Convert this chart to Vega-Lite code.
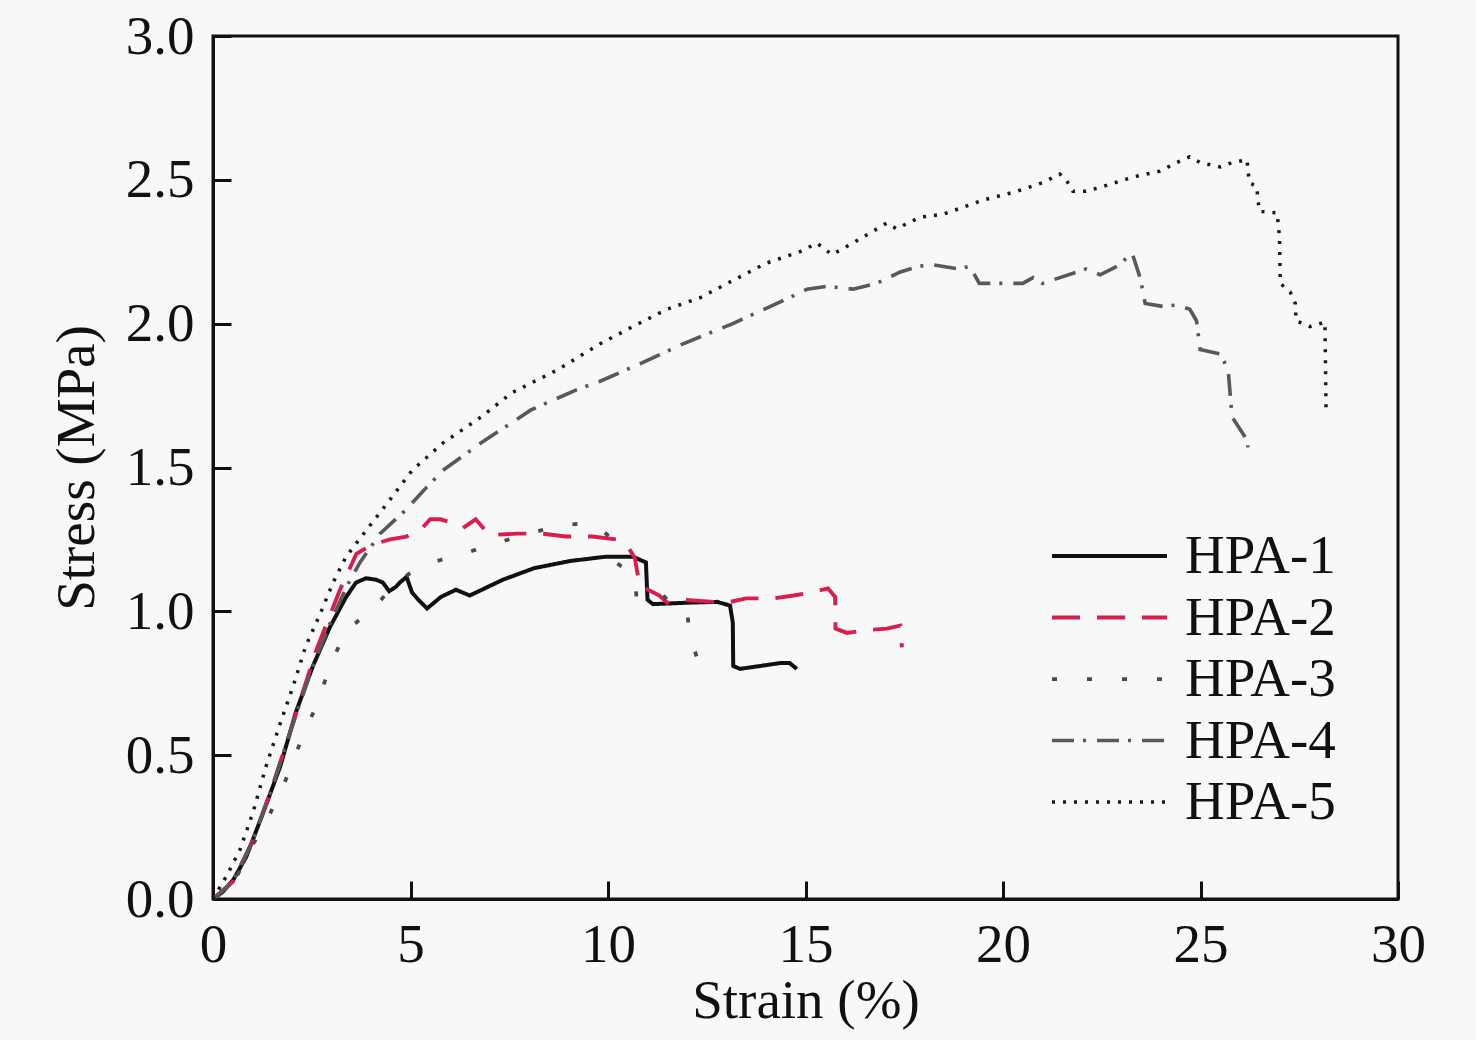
{
  "$schema": "https://vega.github.io/schema/vega-lite/v6.json",
  "width": 1185,
  "height": 863,
  "autosize": "none",
  "padding": {"left": 213, "top": 36, "right": 78, "bottom": 141},
  "background": "#f8f8f8",
  "config": {
    "view": {"stroke": "#111111", "strokeWidth": 3},
    "font": "Liberation Serif",
    "axis": {
      "grid": false,
      "domainColor": "#111111",
      "domainWidth": 3,
      "tickColor": "#111111",
      "tickWidth": 3,
      "tickSize": -18,
      "labelFont": "Liberation Serif",
      "labelFontSize": 55,
      "labelColor": "#111111",
      "labelPadding": 37,
      "labelFlush": false,
      "labelOverlap": false,
      "titleFont": "Liberation Serif",
      "titleFontSize": 55,
      "titleFontWeight": "normal",
      "titleColor": "#111111"
    }
  },
  "data": {
    "values": [
      {"s":"HPA-1","x":0,"y":0},{"s":"HPA-1","x":0.25,"y":0.025},{"s":"HPA-1","x":0.51,"y":0.066},{"s":"HPA-1","x":0.84,"y":0.146},{"s":"HPA-1","x":1.27,"y":0.3},{"s":"HPA-1","x":1.7,"y":0.46},{"s":"HPA-1","x":2.1,"y":0.65},{"s":"HPA-1","x":2.53,"y":0.81},{"s":"HPA-1","x":2.96,"y":0.945},{"s":"HPA-1","x":3.37,"y":1.05},{"s":"HPA-1","x":3.62,"y":1.1},{"s":"HPA-1","x":3.87,"y":1.115},{"s":"HPA-1","x":4.13,"y":1.11},{"s":"HPA-1","x":4.3,"y":1.1},{"s":"HPA-1","x":4.46,"y":1.07},{"s":"HPA-1","x":4.63,"y":1.085},{"s":"HPA-1","x":4.73,"y":1.1},{"s":"HPA-1","x":4.9,"y":1.12},{"s":"HPA-1","x":5.04,"y":1.065},{"s":"HPA-1","x":5.2,"y":1.04},{"s":"HPA-1","x":5.42,"y":1.01},{"s":"HPA-1","x":5.77,"y":1.05},{"s":"HPA-1","x":6.15,"y":1.075},{"s":"HPA-1","x":6.5,"y":1.055},{"s":"HPA-1","x":7.34,"y":1.11},{"s":"HPA-1","x":8.13,"y":1.15},{"s":"HPA-1","x":9.04,"y":1.175},{"s":"HPA-1","x":9.95,"y":1.19},{"s":"HPA-1","x":10.63,"y":1.19},{"s":"HPA-1","x":10.96,"y":1.17},{"s":"HPA-1","x":11.0,"y":1.04},{"s":"HPA-1","x":11.14,"y":1.025},{"s":"HPA-1","x":12.0,"y":1.03},{"s":"HPA-1","x":12.76,"y":1.033},{"s":"HPA-1","x":13.09,"y":1.02},{"s":"HPA-1","x":13.16,"y":0.96},{"s":"HPA-1","x":13.17,"y":0.81},{"s":"HPA-1","x":13.34,"y":0.8},{"s":"HPA-1","x":13.85,"y":0.81},{"s":"HPA-1","x":14.35,"y":0.82},{"s":"HPA-1","x":14.6,"y":0.82},{"s":"HPA-1","x":14.78,"y":0.8},

      {"s":"HPA-2","x":0,"y":0},{"s":"HPA-2","x":0.5,"y":0.06},{"s":"HPA-2","x":1.0,"y":0.2},{"s":"HPA-2","x":1.5,"y":0.39},{"s":"HPA-2","x":2.0,"y":0.6},{"s":"HPA-2","x":2.6,"y":0.86},{"s":"HPA-2","x":3.2,"y":1.07},{"s":"HPA-2","x":3.63,"y":1.2},{"s":"HPA-2","x":4.0,"y":1.23},{"s":"HPA-2","x":4.48,"y":1.25},{"s":"HPA-2","x":4.9,"y":1.26},{"s":"HPA-2","x":5.3,"y":1.29},{"s":"HPA-2","x":5.5,"y":1.32},{"s":"HPA-2","x":5.75,"y":1.32},{"s":"HPA-2","x":6.0,"y":1.31},{"s":"HPA-2","x":6.33,"y":1.29},{"s":"HPA-2","x":6.65,"y":1.32},{"s":"HPA-2","x":7.0,"y":1.265},{"s":"HPA-2","x":7.7,"y":1.27},{"s":"HPA-2","x":8.35,"y":1.27},{"s":"HPA-2","x":8.93,"y":1.26},{"s":"HPA-2","x":9.6,"y":1.26},{"s":"HPA-2","x":10.2,"y":1.25},{"s":"HPA-2","x":10.5,"y":1.225},{"s":"HPA-2","x":10.68,"y":1.185},{"s":"HPA-2","x":10.8,"y":1.09},{"s":"HPA-2","x":11.3,"y":1.055},{"s":"HPA-2","x":11.5,"y":1.03},{"s":"HPA-2","x":11.9,"y":1.04},{"s":"HPA-2","x":13.0,"y":1.03},{"s":"HPA-2","x":13.5,"y":1.045},{"s":"HPA-2","x":14.2,"y":1.045},{"s":"HPA-2","x":14.7,"y":1.055},{"s":"HPA-2","x":15.2,"y":1.067},{"s":"HPA-2","x":15.57,"y":1.08},{"s":"HPA-2","x":15.75,"y":1.05},{"s":"HPA-2","x":15.76,"y":0.94},{"s":"HPA-2","x":16.05,"y":0.925},{"s":"HPA-2","x":16.55,"y":0.935},{"s":"HPA-2","x":17.06,"y":0.94},{"s":"HPA-2","x":17.4,"y":0.95},{"s":"HPA-2","x":17.44,"y":0.875},

      {"s":"HPA-3","x":0,"y":0},{"s":"HPA-3","x":0.5,"y":0.05},{"s":"HPA-3","x":1.0,"y":0.19},{"s":"HPA-3","x":1.27,"y":0.24},{"s":"HPA-3","x":1.52,"y":0.32},{"s":"HPA-3","x":1.77,"y":0.39},{"s":"HPA-3","x":2.03,"y":0.48},{"s":"HPA-3","x":2.28,"y":0.57},{"s":"HPA-3","x":2.58,"y":0.66},{"s":"HPA-3","x":2.84,"y":0.76},{"s":"HPA-3","x":3.11,"y":0.855},{"s":"HPA-3","x":3.37,"y":0.935},{"s":"HPA-3","x":3.62,"y":0.96},{"s":"HPA-3","x":3.85,"y":0.99},{"s":"HPA-3","x":4.1,"y":1.015},{"s":"HPA-3","x":4.5,"y":1.08},{"s":"HPA-3","x":4.96,"y":1.13},{"s":"HPA-3","x":5.54,"y":1.17},{"s":"HPA-3","x":6.33,"y":1.2},{"s":"HPA-3","x":7.24,"y":1.24},{"s":"HPA-3","x":8.13,"y":1.275},{"s":"HPA-3","x":8.8,"y":1.3},{"s":"HPA-3","x":9.37,"y":1.305},{"s":"HPA-3","x":9.8,"y":1.29},{"s":"HPA-3","x":10.1,"y":1.25},{"s":"HPA-3","x":10.2,"y":1.17},{"s":"HPA-3","x":10.5,"y":1.14},{"s":"HPA-3","x":10.7,"y":1.085},{"s":"HPA-3","x":10.72,"y":1.05},{"s":"HPA-3","x":11.3,"y":1.07},{"s":"HPA-3","x":11.5,"y":1.04},{"s":"HPA-3","x":12.0,"y":1.0},{"s":"HPA-3","x":12.08,"y":0.91},{"s":"HPA-3","x":12.25,"y":0.84},{"s":"HPA-3","x":12.55,"y":0.82},

      {"s":"HPA-4","x":0,"y":0},{"s":"HPA-4","x":0.5,"y":0.06},{"s":"HPA-4","x":1.0,"y":0.2},{"s":"HPA-4","x":1.5,"y":0.39},{"s":"HPA-4","x":2.0,"y":0.6},{"s":"HPA-4","x":2.5,"y":0.8},{"s":"HPA-4","x":3.0,"y":0.97},{"s":"HPA-4","x":3.4,"y":1.09},{"s":"HPA-4","x":3.72,"y":1.17},{"s":"HPA-4","x":4.23,"y":1.27},{"s":"HPA-4","x":4.86,"y":1.35},{"s":"HPA-4","x":5.4,"y":1.43},{"s":"HPA-4","x":5.82,"y":1.49},{"s":"HPA-4","x":6.78,"y":1.585},{"s":"HPA-4","x":8.05,"y":1.7},{"s":"HPA-4","x":9.2,"y":1.77},{"s":"HPA-4","x":9.8,"y":1.8},{"s":"HPA-4","x":10.8,"y":1.86},{"s":"HPA-4","x":11.9,"y":1.93},{"s":"HPA-4","x":13.16,"y":2.0},{"s":"HPA-4","x":14.43,"y":2.08},{"s":"HPA-4","x":15.04,"y":2.12},{"s":"HPA-4","x":15.54,"y":2.13},{"s":"HPA-4","x":16.2,"y":2.12},{"s":"HPA-4","x":16.8,"y":2.14},{"s":"HPA-4","x":17.4,"y":2.18},{"s":"HPA-4","x":17.9,"y":2.2},{"s":"HPA-4","x":18.2,"y":2.205},{"s":"HPA-4","x":18.9,"y":2.19},{"s":"HPA-4","x":19.16,"y":2.2},{"s":"HPA-4","x":19.4,"y":2.14},{"s":"HPA-4","x":20.5,"y":2.14},{"s":"HPA-4","x":20.76,"y":2.16},{"s":"HPA-4","x":21.0,"y":2.14},{"s":"HPA-4","x":21.44,"y":2.16},{"s":"HPA-4","x":22.1,"y":2.19},{"s":"HPA-4","x":22.46,"y":2.17},{"s":"HPA-4","x":22.9,"y":2.2},{"s":"HPA-4","x":23.27,"y":2.245},{"s":"HPA-4","x":23.47,"y":2.16},{"s":"HPA-4","x":23.6,"y":2.07},{"s":"HPA-4","x":24.05,"y":2.06},{"s":"HPA-4","x":24.4,"y":2.065},{"s":"HPA-4","x":24.73,"y":2.05},{"s":"HPA-4","x":24.9,"y":2.01},{"s":"HPA-4","x":24.99,"y":1.91},{"s":"HPA-4","x":25.5,"y":1.895},{"s":"HPA-4","x":25.7,"y":1.84},{"s":"HPA-4","x":25.8,"y":1.675},{"s":"HPA-4","x":26.18,"y":1.595},{"s":"HPA-4","x":26.2,"y":1.57},

      {"s":"HPA-5","x":0,"y":0},{"s":"HPA-5","x":0.33,"y":0.077},{"s":"HPA-5","x":0.68,"y":0.17},{"s":"HPA-5","x":1.01,"y":0.3},{"s":"HPA-5","x":1.34,"y":0.46},{"s":"HPA-5","x":1.7,"y":0.61},{"s":"HPA-5","x":2.03,"y":0.74},{"s":"HPA-5","x":2.35,"y":0.88},{"s":"HPA-5","x":2.71,"y":0.99},{"s":"HPA-5","x":3.04,"y":1.1},{"s":"HPA-5","x":3.37,"y":1.19},{"s":"HPA-5","x":3.87,"y":1.28},{"s":"HPA-5","x":4.38,"y":1.37},{"s":"HPA-5","x":5.04,"y":1.49},{"s":"HPA-5","x":5.82,"y":1.585},{"s":"HPA-5","x":6.78,"y":1.675},{"s":"HPA-5","x":7.57,"y":1.76},{"s":"HPA-5","x":8.73,"y":1.84},{"s":"HPA-5","x":9.8,"y":1.93},{"s":"HPA-5","x":10.63,"y":1.99},{"s":"HPA-5","x":11.49,"y":2.05},{"s":"HPA-5","x":12.33,"y":2.09},{"s":"HPA-5","x":13.16,"y":2.15},{"s":"HPA-5","x":14.0,"y":2.21},{"s":"HPA-5","x":14.86,"y":2.25},{"s":"HPA-5","x":15.29,"y":2.28},{"s":"HPA-5","x":15.67,"y":2.24},{"s":"HPA-5","x":16.2,"y":2.28},{"s":"HPA-5","x":17.06,"y":2.35},{"s":"HPA-5","x":17.3,"y":2.33},{"s":"HPA-5","x":17.9,"y":2.37},{"s":"HPA-5","x":18.48,"y":2.38},{"s":"HPA-5","x":19.5,"y":2.43},{"s":"HPA-5","x":20.35,"y":2.46},{"s":"HPA-5","x":21.0,"y":2.49},{"s":"HPA-5","x":21.44,"y":2.52},{"s":"HPA-5","x":21.6,"y":2.5},{"s":"HPA-5","x":21.77,"y":2.46},{"s":"HPA-5","x":22.1,"y":2.46},{"s":"HPA-5","x":22.6,"y":2.48},{"s":"HPA-5","x":23.3,"y":2.51},{"s":"HPA-5","x":23.97,"y":2.53},{"s":"HPA-5","x":24.4,"y":2.56},{"s":"HPA-5","x":24.73,"y":2.58},{"s":"HPA-5","x":24.99,"y":2.56},{"s":"HPA-5","x":25.5,"y":2.545},{"s":"HPA-5","x":25.8,"y":2.56},{"s":"HPA-5","x":26.18,"y":2.57},{"s":"HPA-5","x":26.2,"y":2.53},{"s":"HPA-5","x":26.25,"y":2.49},{"s":"HPA-5","x":26.43,"y":2.475},{"s":"HPA-5","x":26.45,"y":2.43},{"s":"HPA-5","x":26.5,"y":2.39},{"s":"HPA-5","x":26.94,"y":2.385},{"s":"HPA-5","x":27.0,"y":2.3},{"s":"HPA-5","x":27.02,"y":2.14},{"s":"HPA-5","x":27.27,"y":2.11},{"s":"HPA-5","x":27.4,"y":2.07},{"s":"HPA-5","x":27.42,"y":2.01},{"s":"HPA-5","x":27.77,"y":1.99},{"s":"HPA-5","x":28.15,"y":2.005},{"s":"HPA-5","x":28.18,"y":1.69}
    ]
  },
  "mark": {"type": "line", "clip": true},
  "encoding": {
    "x": {
      "field": "x", "type": "quantitative",
      "scale": {"domain": [0, 30], "nice": false, "zero": false},
      "axis": {"values": [0, 5, 10, 15, 20, 25, 30], "title": "Strain (%)", "titlePadding": 2}
    },
    "y": {
      "field": "y", "type": "quantitative",
      "scale": {"domain": [0, 3], "nice": false},
      "axis": {"values": [0, 0.5, 1, 1.5, 2, 2.5, 3], "format": ".1f", "title": "Stress (MPa)", "titlePadding": 20}
    },
    "order": {"value": null},
    "strokeWidth": {
      "field": "s", "type": "nominal",
      "scale": {"domain": ["HPA-1", "HPA-2", "HPA-3", "HPA-4", "HPA-5"], "range": [4, 3.5, 3.5, 3.2, 3.2]},
      "legend": null
    },
    "color": {
      "field": "s", "type": "nominal",
      "scale": {"domain": ["HPA-1", "HPA-2", "HPA-3", "HPA-4", "HPA-5"], "range": ["#111111", "#dc1c4b", "#4a4a4a", "#595959", "#1a1a1a"]},
      "legend": {
        "title": null, "orient": "none", "legendX": 837, "legendY": 494,
        "symbolType": "stroke", "symbolSize": 13225, "symbolStrokeWidth": 3.5,
        "labelFont": "Liberation Serif", "labelFontSize": 55, "labelColor": "#111111",
        "labelOffset": 16, "rowPadding": 6.5, "clipHeight": 52, "padding": 0
      }
    },
    "strokeDash": {
      "field": "s", "type": "nominal",
      "scale": {"domain": ["HPA-1", "HPA-2", "HPA-3", "HPA-4", "HPA-5"], "range": [[1, 0], [28, 17], [5, 30], [22, 9, 3, 11], [3, 8]]},
      "legend": {
        "title": null, "orient": "none", "legendX": 837, "legendY": 494,
        "symbolType": "stroke", "symbolSize": 13225, "symbolStrokeWidth": 3.5,
        "labelFont": "Liberation Serif", "labelFontSize": 55, "labelColor": "#111111",
        "labelOffset": 16, "rowPadding": 6.5, "clipHeight": 52, "padding": 0
      }
    }
  }
}
